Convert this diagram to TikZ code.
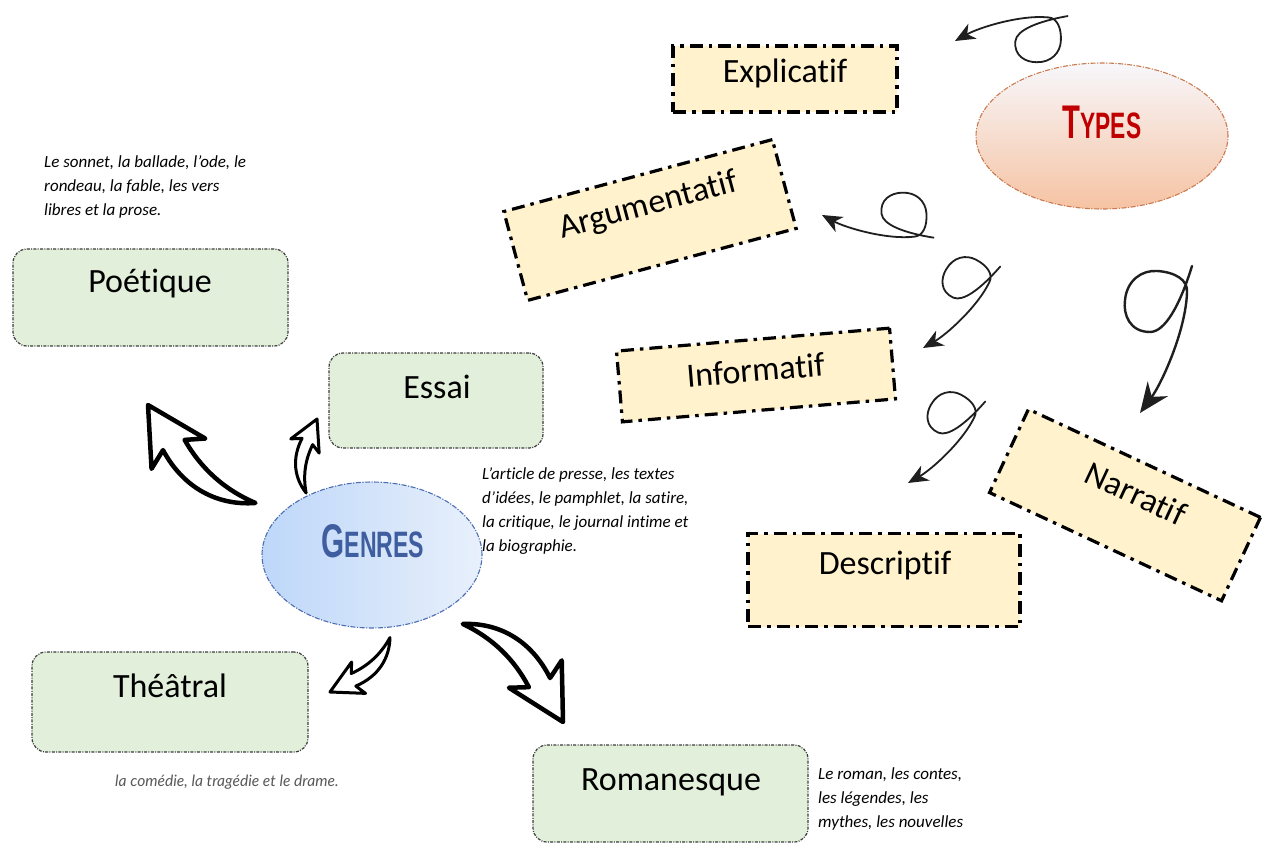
\documentclass[tikz,border=0pt]{standalone}
\usepackage{graphicx}
\usepackage{fontspec}
\setmainfont[Ligatures=NoCommon]{Carlito}
\newfontfamily\latofont{Lato}
\newfontfamily\dispfont{Liberation Sans}
\usetikzlibrary{shapes.geometric,arrows.meta}
\definecolor{gfill}{HTML}{E2EFDA}
\definecolor{yfill}{HTML}{FFF2CC}
\definecolor{gborder}{HTML}{3C3C3C}
\definecolor{genblue}{HTML}{3F5E9F}
\definecolor{typered}{HTML}{C00000}
\definecolor{typeborder}{HTML}{C97A4E}
\definecolor{genborder}{HTML}{4B6DB2}
\definecolor{greytext}{HTML}{595959}
\newcommand\loopshape{(52,147) .. controls (40,108) and (25,81) .. (10,81) .. controls (-10,81) and (-17,98) .. (-15,113) .. controls (-13,133) and (2,143) .. (17,142) .. controls (35,141) and (48,133) .. (47,121) .. controls (46,83) and (22,30) .. (0,0)}
\newcommand\hollowshape{(0,0) -- (-22,-40) -- (-8,-33) .. controls (-10,-65) and (5,-88) .. (28,-100) .. controls (14,-80) and (8,-58) .. (9,-35) -- (22,-42) -- cycle}
\begin{document}
\begin{tikzpicture}[x=1pt,y=1pt,
 gbox/.style={draw=gborder, fill=gfill, line width=1.2pt, rounded corners=14pt, dash pattern=on 3pt off 1.3pt on 1pt off 1.3pt, inner sep=0pt},
 ybox/.style={draw=black, fill=yfill, line width=3.2pt, dash pattern=on 13pt off 6pt on 3.5pt off 6pt, inner sep=0pt},
 lbl/.style={font=\fontsize{34}{40}\selectfont, inner sep=0pt},
 desc/.style={font=\fontsize{17}{24}\selectfont\itshape, text=black, align=left, inner sep=0pt, anchor=north west},
 loopline/.style={draw=black!88, line cap=round},
 harrow/.style={draw=black, fill=white, line join=round}
]
\useasboundingbox (0,0) rectangle (1283,-845);
\fill[white] (0,0) rectangle (1283,-845);

% green boxes (genres)
\node[gbox, minimum width=275pt, minimum height=97pt] (poetbox) at (150.5,-297.5) {};
\node[lbl, anchor=base] (poet) at (150,-293) {Poétique};
\node[gbox, minimum width=214pt, minimum height=95pt] (essaibox) at (436,-400.5) {};
\node[lbl, anchor=base] (essai) at (437,-398) {Essai};
\node[gbox, minimum width=276pt, minimum height=100pt] (theabox) at (170,-702) {};
\node[lbl, anchor=base] (thea) at (170,-697) {Théâtral};
\node[gbox, minimum width=275pt, minimum height=97pt] (rombox) at (670.5,-793.5) {};
\node[lbl, anchor=base] (rom) at (671,-790) {Romanesque};

% ellipses
\node[ellipse, minimum width=220pt, minimum height=146pt, draw=genborder, line width=1.1pt,
  dash pattern=on 5pt off 1.5pt on 1.2pt off 1.5pt, left color={rgb,255:red,190;green,215;blue,249},
  right color={rgb,255:red,232;green,240;blue,251}] (genres) at (372,-555) {};
\node[inner sep=0pt, text=genblue] (genrestxt) at (373,-541)
  {\scalebox{0.66}[1.05]{\dispfont\bfseries{\fontsize{45}{45}\selectfont G}{\fontsize{35}{35}\selectfont ENRES}}};
\node[ellipse, minimum width=252pt, minimum height=146pt, draw=typeborder, line width=1.1pt,
  dash pattern=on 5pt off 1.5pt on 1.2pt off 1.5pt, top color={rgb,255:red,247;green,247;blue,251},
  bottom color={rgb,255:red,246;green,195;blue,163}] (types) at (1102,-136) {};
\node[inner sep=0pt, text=typered] (typestxt) at (1102,-122)
  {\scalebox{0.65}[1.05]{\dispfont\bfseries{\fontsize{45}{45}\selectfont T}{\fontsize{35}{35}\selectfont YPES}}};

% yellow boxes (types)
\begin{scope}[shift={(785,-79)}]
 \node[ybox, minimum width=224pt, minimum height=66pt] (explbox) at (0,0) {};
 \node[lbl] (expl) at (0,6) {Explicatif};
\end{scope}
\begin{scope}[shift={(650,-220)}, rotate=15, transform shape]
 \node[ybox, minimum width=278pt, minimum height=92pt] (argbox) at (0,0) {};
 \node[lbl] (arg) at (2,14) {Argumentatif};
\end{scope}
\begin{scope}[shift={(756,-375)}, rotate=4.8, transform shape]
 \node[ybox, minimum width=274pt, minimum height=71pt] (infobox) at (0,0) {};
 \node[lbl] (info) at (0,5) {Informatif};
\end{scope}
\begin{scope}[shift={(1125,-505)}, rotate=-25, transform shape]
 \node[ybox, minimum width=256pt, minimum height=92pt] (narrbox) at (0,0) {};
 \node[lbl] (narr) at (5,15) {Narratif};
\end{scope}
\begin{scope}[shift={(884,-580)}]
 \node[ybox, minimum width=272pt, minimum height=93pt] (descbox) at (0,0) {};
 \node[lbl] (desc) at (1,14) {Descriptif};
\end{scope}

% descriptions
\node[desc] (poetdesc) at (44,-155) {Le sonnet, la ballade, l’ode, le\\rondeau, la fable, les vers\\libres et la prose.};
\node[desc] (essaidesc) at (482,-467) {L’article de presse, les textes\\d’idées, le pamphlet, la satire,\\la critique, le journal intime et\\la biographie.};
\node[desc] (romdesc) at (818,-767) {Le roman, les contes,\\les légendes, les\\mythes, les nouvelles};
\node[font=\latofont\itshape\fontsize{15.6}{18}\selectfont, text=greytext, anchor=base west, inner sep=0pt] (theadesc) at (115,-786) {la comédie, la tragédie et le drame.};

% loop arrows from Types
\coordinate (t1) at (955,-41);
\coordinate (t2) at (822,-215);
\coordinate (t3) at (923,-348);
\coordinate (t4) at (908,-483);
\coordinate (t5) at (1140,-413);
\begin{scope}[shift={(t1)}, rotate=-97, xscale=-0.74, yscale=0.74]
 \draw[loopline, line width=1.8pt, -{Stealth[length=20pt,width=17pt,inset=6pt]}] \loopshape;
\end{scope}
\begin{scope}[shift={(t2)}, rotate=-82, scale=0.73]
 \draw[loopline, line width=1.8pt, -{Stealth[length=20pt,width=17pt,inset=6pt]}] \loopshape;
\end{scope}
\begin{scope}[shift={(t3)}, rotate=-24, scale=0.72]
 \draw[loopline, line width=1.8pt, -{Stealth[length=20pt,width=17pt,inset=6pt]}] \loopshape;
\end{scope}
\begin{scope}[shift={(t4)}, rotate=-24, scale=0.72]
 \draw[loopline, line width=1.8pt, -{Stealth[length=20pt,width=17pt,inset=6pt]}] \loopshape;
\end{scope}
\begin{scope}[shift={(t5)}]
 \draw[loopline, line width=2.4pt, -{Stealth[length=30pt,width=25pt,inset=10pt]}] \loopshape;
\end{scope}

% hollow arrows from Genres
\coordinate (h1) at (148,-405);
\coordinate (h2) at (317,-419);
\coordinate (h3) at (330,-692);
\coordinate (h4) at (563,-722);
\begin{scope}[shift={(h1)}, rotate=32, scale=1.4]
 \draw[harrow, line width=4.5pt] \hollowshape;
\end{scope}
\begin{scope}[shift={(h2)}, rotate=-24, scale=0.72]
 \draw[harrow, line width=3pt] \hollowshape;
\end{scope}
\begin{scope}[shift={(h3)}, rotate=116.6, scale=0.78]
 \draw[harrow, line width=3pt] \hollowshape;
\end{scope}
\begin{scope}[shift={(h4)}, rotate=-150, scale=1.35]
 \draw[harrow, line width=4.5pt] \hollowshape;
\end{scope}
\end{tikzpicture}
\end{document}
